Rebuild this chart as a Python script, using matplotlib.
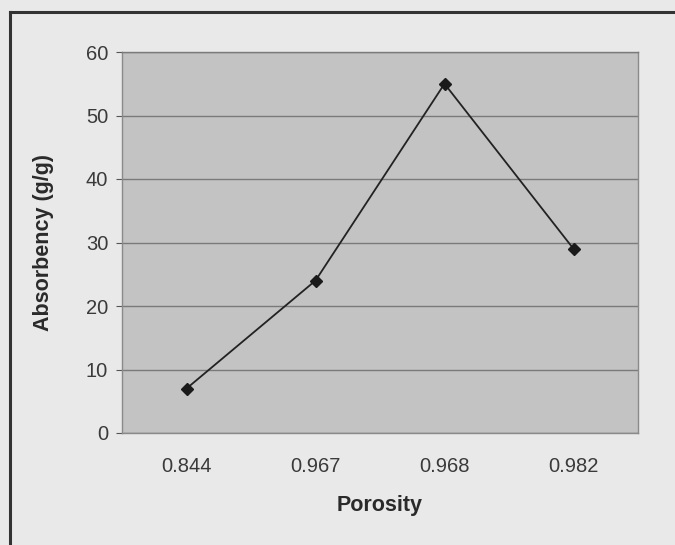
import matplotlib
matplotlib.use("Agg")
import matplotlib.pyplot as plt
from matplotlib.lines import Line2D

porosity = ["0.844", "0.967", "0.968", "0.982"]
absorbency = [7, 24, 55, 29]
y_ticks = [0, 10, 20, 30, 40, 50, 60]

plt.rcParams['font.family'] = ['Liberation Sans', 'DejaVu Sans']

fig = plt.figure(figsize=(6.75, 5.45), dpi=100, facecolor="#e9e9e9")
ax = fig.add_axes([122 / 675, 112 / 545, 516 / 675, 381 / 545])
ax.set_facecolor("#c3c3c3")

x = list(range(len(porosity)))
ax.plot(x, absorbency, color="#222222", linewidth=1.3, marker="D",
        markersize=6, markerfacecolor="#1a1a1a", markeredgecolor="#1a1a1a", zorder=3)

ax.set_xlim(-0.5, len(porosity) - 0.5)
ax.set_ylim(0, 60)
ax.set_yticks(y_ticks)
ax.set_xticks(x)
ax.set_xticklabels(porosity)
ax.yaxis.grid(True, color="#7a7a7a", linewidth=1.0)
ax.set_axisbelow(True)

for side in ["left", "bottom", "right", "top"]:
    ax.spines[side].set_color("#8a8a8a")
    ax.spines[side].set_linewidth(1.0)
ax.spines["top"].set_color("#7a7a7a")

ax.tick_params(axis="both", colors="#555555", labelcolor="#3a3a3a",
               labelsize=14.5, length=4, width=0.8)
ax.tick_params(axis="y", pad=6)
ax.tick_params(axis="x", pad=17, length=0)

ax.set_ylabel("Absorbency (g/g)", fontsize=15.5, fontweight="bold",
              color="#2a2a2a", labelpad=23)
ax.set_xlabel("Porosity", fontsize=15.5, fontweight="bold",
              color="#2a2a2a", labelpad=14)

# outer chart frame (left and top edges)
fig.add_artist(Line2D([10 / 675, 10 / 675], [0, 1 - 12 / 545],
                      transform=fig.transFigure, color="#333333", linewidth=2.2))
fig.add_artist(Line2D([10 / 675, 1], [1 - 12 / 545, 1 - 12 / 545],
                      transform=fig.transFigure, color="#333333", linewidth=2.2))

fig.savefig("out.png", dpi=100, facecolor=fig.get_facecolor())
